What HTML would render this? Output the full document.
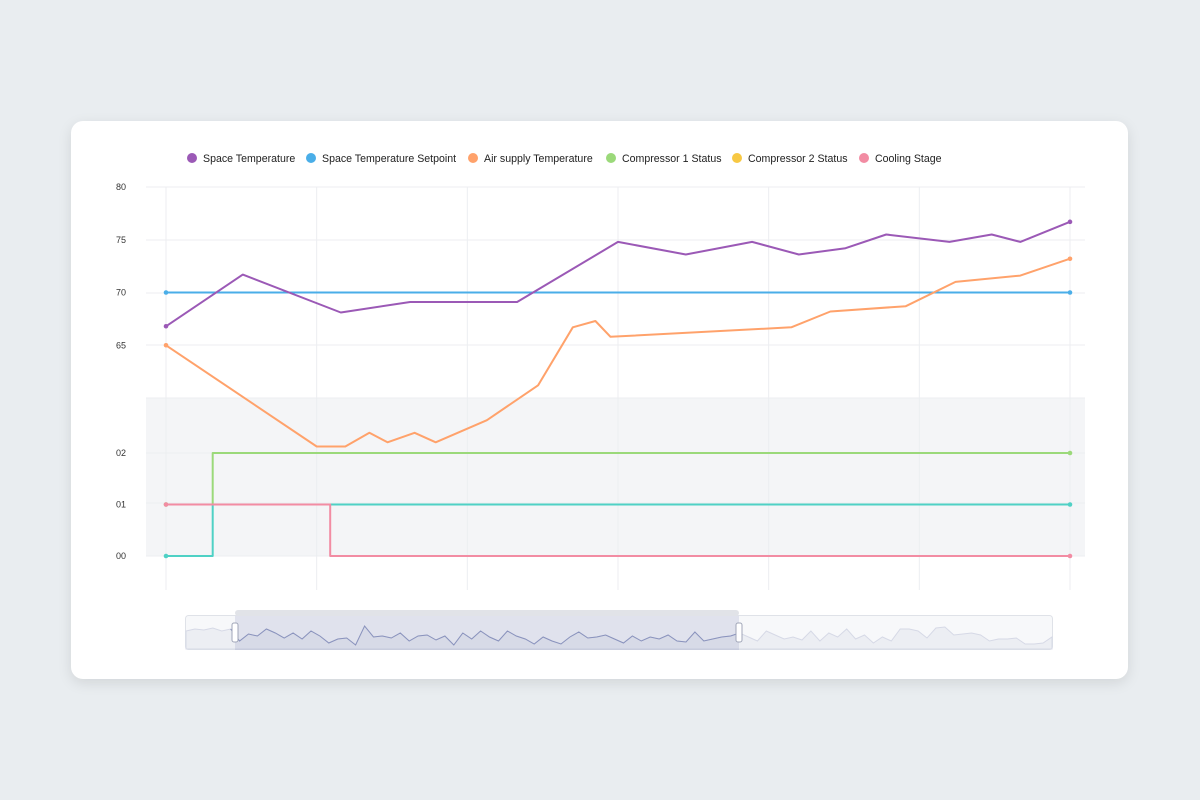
<!DOCTYPE html>
<html><head><meta charset="utf-8">
<style>
html,body{margin:0;padding:0;background:#e9edf0;width:1200px;height:800px;overflow:hidden;font-family:"Liberation Sans",sans-serif;}
#card{position:absolute;left:71px;top:121px;width:1057px;height:558px;background:#fff;border-radius:12px;box-shadow:0 4px 14px rgba(0,0,0,0.10);}
svg{position:absolute;left:0;top:0;}
</style></head><body>
<div id="card"></div>
<svg id="chart" width="1200" height="800"></svg>
<script>
// ---- data ----
const spaceTempX = [0,5.1,11.6,16.2,23.3,30,34.5,38.9,42,45.1,47.8,52,54.8,56.7,60];
const spaceTempY = [66.8,71.7,68.1,69.1,69.1,74.8,73.6,74.8,73.6,74.2,75.5,74.8,75.5,74.8,76.7];
const setpointX = [0,60];
const setpointY = [70,70];
const airX = [0,10,11.9,13.5,14.7,16.5,17.9,21.3,24.7,27,28.5,29.5,41.5,44.1,49.1,52.4,56.7,60];
const airY = [65,55.4,55.4,56.7,55.8,56.7,55.8,57.9,61.2,66.7,67.3,65.8,66.7,68.2,68.7,71,71.6,73.2];
const comp1X = [0,3.1,3.1,60];
const comp1Y = [1,1,2,2];
const comp2X = [0,3.1,3.1,60];
const comp2Y = [0,0,1,1];
const coolX = [0,10.9,10.9,60];
const coolY = [1,1,0,0];
const upperTicks = [80,75,70,65];
const lowerTicks = ["02","01","00"];
const lowerTickVals = [2,1,0];
const legendNames = ["Space Temperature","Space Temperature Setpoint","Air supply Temperature","Compressor 1 Status","Compressor 2 Status","Cooling Stage"];
const legendColors = ["#9b59b6","#4aaee8","#ffa26b","#9bd97a","#f7c843","#f28ca3"];
const spark = [50,52,51,53,50,52,40,47,45,52,48,43,48,42,50,45,38,42,43,36,55,44,45,43,48,40,45,46,41,45,36,48,42,50,44,40,50,45,42,37,44,40,37,44,49,43,44,46,42,38,45,40,44,42,46,40,39,49,40,42,44,45,48,44,40,50,46,42,44,41,50,40,48,44,52,42,46,38,44,40,52,52,50,43,53,54,46,47,48,46,40,42,42,43,37,37,38,44];
// ---- scales ----
const X0=166, X1=1070;
const sx = t => X0 + (X1-X0)*t/60;
const syU = v => 187 + (80-v)*(398-187)/20;
const syL = v => 556 - v*51.5;
const svg = document.getElementById('chart');
const NS='http://www.w3.org/2000/svg';
function mk(tag, attrs){const e=document.createElementNS(NS,tag);for(const k in attrs)e.setAttribute(k,attrs[k]);svg.appendChild(e);return e;}
let band = mk('rect',{x:146,y:398,width:939,height:158,fill:'#f4f5f7'});


for(let i=0;i<=6;i++){const g=mk('line',{x1:X0+i*(X1-X0)/6,x2:X0+i*(X1-X0)/6,y1:187,y2:590,stroke:'#eceef1','stroke-width':1});

}
const hl=[187,240,293,345,398,453,503,556];
hl.forEach(y=>{const g=mk('line',{x1:146,x2:1085,y1:y,y2:y,stroke:'#eceef1','stroke-width':1});

});
upperTicks.forEach(v=>{const t=mk('text',{x:121,y:syU(v)+3,'font-size':9,fill:'#333','text-anchor':'middle'});t.textContent=v;

});
lowerTicks.forEach((s,i)=>{const t=mk('text',{x:121,y:syL(lowerTickVals[i])+3,'font-size':9,fill:'#333','text-anchor':'middle'});t.textContent=s;

});
function series(xs,ys,sy,color,name,w){
 const d=xs.map((x,i)=>(i?'L':'M')+sx(x).toFixed(1)+','+sy(ys[i]).toFixed(1)).join(' ');
 const p=mk('path',{d:d,fill:'none',stroke:color,'stroke-width':w||2,'stroke-linejoin':'round'});
 
 
 [0,xs.length-1].forEach(i=>{const c=mk('circle',{cx:sx(xs[i]),cy:sy(ys[i]),r:2.3,fill:color});
 
 });
}
series(comp2X,comp2Y,syL,'#4fd1c5','compressor-2-line');
series(comp1X,comp1Y,syL,'#9bd97a','compressor-1-line');
series(coolX,coolY,syL,'#f28ca3','cooling-stage-line');
series(setpointX,setpointY,syU,'#4aaee8','setpoint-line');
series(airX,airY,syU,'#ffa26b','air-supply-line');
series(spaceTempX,spaceTempY,syU,'#9b59b6','space-temp-line');
const lx=[192,311,473,611,737,864];
legendNames.forEach((n,i)=>{
 const c=mk('circle',{cx:lx[i],cy:158,r:5,fill:legendColors[i]});
 
 
 const t=mk('text',{x:lx[i]+11,y:162,'font-size':10.6,fill:'#222'});t.textContent=n;
 
 
});
const sl=mk('rect',{x:185.5,y:615.5,width:867,height:34,rx:3,fill:'#f7f8fa',stroke:'#dfe2e8'});


const spx=i=>186+i*866/(spark.length-1), spy=v=>681-v*1.0;
let sd=spark.map((v,i)=>(i?'L':'M')+spx(i).toFixed(1)+','+spy(v).toFixed(1)).join(' ');
const sa=mk('path',{d:sd+' L1052,649 L186,649 Z',fill:'#eceef3',stroke:'#d6d9e6'});


const sel=mk('rect',{x:235,y:616,width:504,height:34,fill:'rgba(120,130,180,0.18)'});


const iStart=Math.round((235-186)/866*(spark.length-1)), iEnd=Math.round((739-186)/866*(spark.length-1));
let sd2=spark.slice(iStart,iEnd+1).map((v,k)=>(k?'L':'M')+spx(iStart+k).toFixed(1)+','+spy(v).toFixed(1)).join(' ');
const sl2=mk('path',{d:sd2,fill:'none',stroke:'#8a93bd','stroke-width':1});


const tb=mk('rect',{x:235,y:610,width:504,height:6,rx:3,fill:'#e1e3e8'});


[235,739].forEach(x=>{const h=mk('rect',{x:x-3,y:623,width:6,height:19,rx:2,fill:'#fff',stroke:'#a0a6b8'});

});
</script>
</body></html>
